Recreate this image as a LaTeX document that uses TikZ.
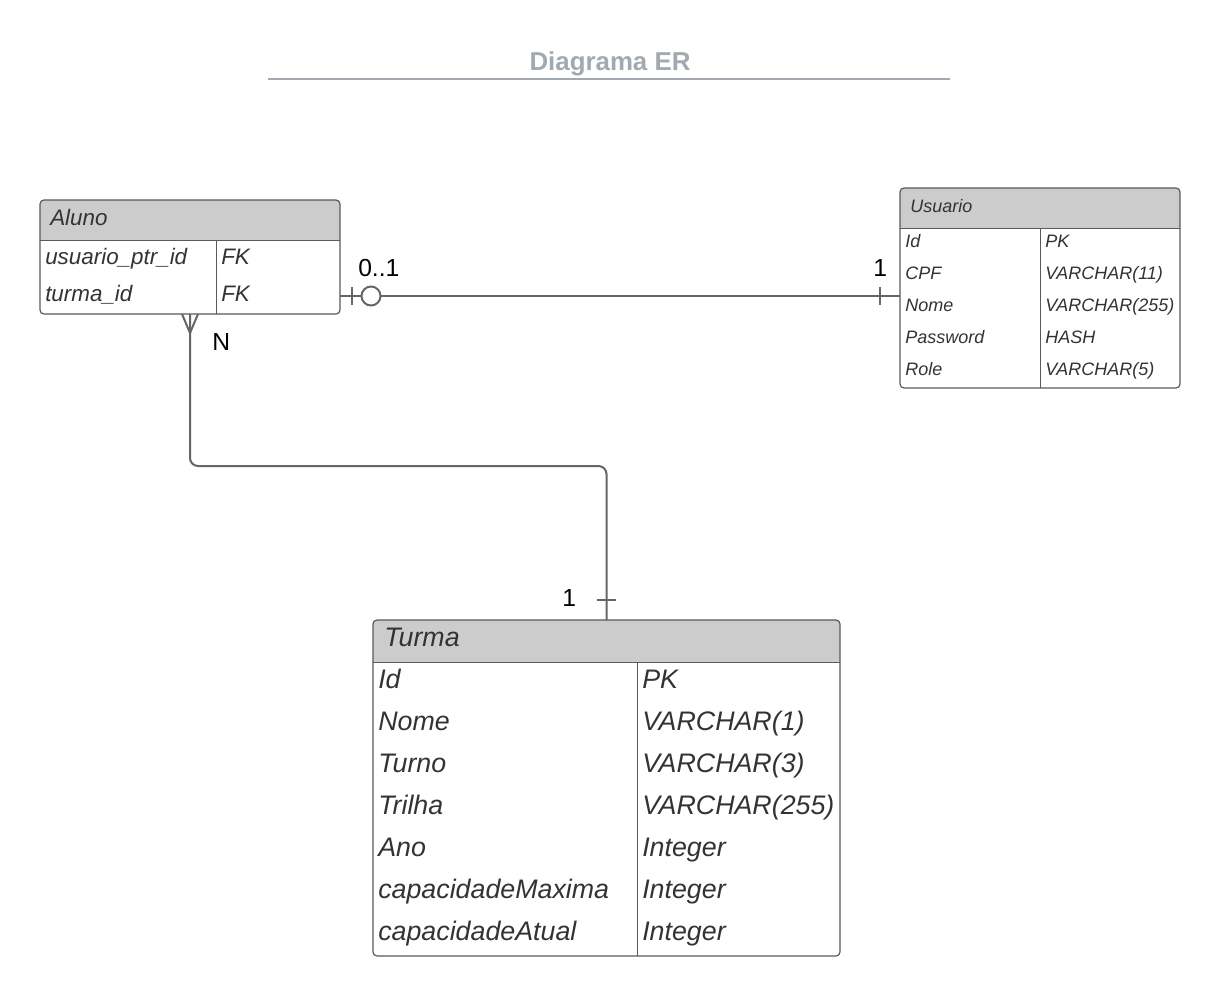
\documentclass[tikz,border=0pt]{standalone}
\usepackage{fontspec}
\setmainfont{Liberation Sans}
\usetikzlibrary{calc}
\definecolor{titlegrey}{HTML}{A3A9B1}
\definecolor{hdrgrey}{HTML}{CCCCCC}
\definecolor{bordergrey}{HTML}{5A5A5A}
\definecolor{linegrey}{HTML}{666666}
\definecolor{txt}{HTML}{333333}
\tikzset{
  tbl/.style={inner sep=0pt, outer sep=0pt, anchor=north west},
  border/.style={draw=bordergrey, line width=0.9pt, rounded corners=3pt},
  grid/.style={draw=bordergrey, line width=0.75pt},
  conn/.style={draw=linegrey, line width=1.5pt},
  ta/.style={anchor=base west, inner sep=0pt, text=txt, font=\fontsize{16.8}{19}\selectfont\itshape},
  tu/.style={anchor=base west, inner sep=0pt, text=txt, font=\fontsize{13.5}{16}\selectfont\itshape},
  tt/.style={anchor=base west, inner sep=0pt, text=txt, font=\fontsize{20.1}{23}\selectfont\itshape},
  lbl/.style={anchor=base west, inner sep=0pt, text=black, font=\fontsize{18.5}{22}\selectfont},
}
\begin{document}
\begin{tikzpicture}[x=0.75pt,y=-0.75pt]
\useasboundingbox (0,0) rectangle (1227,996);
\fill[white] (0,0) rectangle (1227,996);

% title
\node[anchor=base, inner sep=0pt, text=titlegrey, font=\fontsize{19.4}{22}\selectfont\bfseries] (title) at (610,70) {Diagrama ER};
\draw[draw=titlegrey, line width=1.5pt] (268,79) -- (950,79);

% ---------- Aluno ----------
\node[tbl, minimum width=225pt, minimum height=85.5pt] (aluno) at (40,200) {};
\begin{scope}
\clip[rounded corners=3pt] (aluno.north west) rectangle (aluno.south east);
\fill[hdrgrey] (aluno.north west) rectangle (340,240);
\end{scope}
\draw[grid] (40,240) -- (340,240);
\draw[grid] (216,240) -- (216,314);
\draw[border] (aluno.north west) rectangle (aluno.south east);
\node[ta] (alunoH) at (50,225) {Aluno};
\node[ta] (alunoA1) at (45,264) {usuario\_ptr\_id};
\node[ta] (alunoB1) at (221,264) {FK};
\node[ta] (alunoA2) at (45,301) {turma\_id};
\node[ta] (alunoB2) at (221,301) {FK};

% ---------- Usuario ----------
\node[tbl, minimum width=210pt, minimum height=150pt] (usuario) at (900,188) {};
\begin{scope}
\clip[rounded corners=3pt] (usuario.north west) rectangle (usuario.south east);
\fill[hdrgrey] (usuario.north west) rectangle (1180,228);
\end{scope}
\draw[grid] (900,228) -- (1180,228);
\draw[grid] (1040,228) -- (1040,388);
\draw[border] (usuario.north west) rectangle (usuario.south east);
\node[tu] (usuarioH) at (910,212) {Usuario};
\node[tu] (u1a) at (905,247) {Id};
\node[tu] (u1b) at (1045,247) {PK};
\node[tu] (u2a) at (905,279) {CPF};
\node[tu] (u2b) at (1045,279) {VARCHAR(11)};
\node[tu] (u3a) at (905,311) {Nome};
\node[tu] (u3b) at (1045,311) {VARCHAR(255)};
\node[tu] (u4a) at (905,343) {Password};
\node[tu] (u4b) at (1045,343) {HASH};
\node[tu] (u5a) at (905,375) {Role};
\node[tu] (u5b) at (1045,375) {VARCHAR(5)};

% ---------- Turma ----------
\node[tbl, minimum width=350.25pt, minimum height=252pt] (turma) at (373,620) {};
\begin{scope}
\clip[rounded corners=3pt] (turma.north west) rectangle (turma.south east);
\fill[hdrgrey] (turma.north west) rectangle (840,662);
\end{scope}
\draw[grid] (373,662) -- (840,662);
\draw[grid] (637,662) -- (637,956);
\draw[border] (turma.north west) rectangle (turma.south east);
\node[tt] (turmaH) at (384,646) {Turma};
\node[tt] (t1a) at (378,688) {Id};
\node[tt] (t1b) at (642,688) {PK};
\node[tt] (t2a) at (378,730) {Nome};
\node[tt] (t2b) at (642,730) {VARCHAR(1)};
\node[tt] (t3a) at (378,772) {Turno};
\node[tt] (t3b) at (642,772) {VARCHAR(3)};
\node[tt] (t4a) at (378,814) {Trilha};
\node[tt] (t4b) at (642,814) {VARCHAR(255)};
\node[tt] (t5a) at (378,856) {Ano};
\node[tt] (t5b) at (642,856) {Integer};
\node[tt] (t6a) at (378,898) {capacidadeMaxima};
\node[tt] (t6b) at (642,898) {Integer};
\node[tt] (t7a) at (378,940) {capacidadeAtual};
\node[tt] (t7b) at (642,940) {Integer};

% ---------- Connector Aluno -- Usuario ----------
\coordinate (p1) at ($(aluno.south east)+(0,-18)$);
\draw[conn] (p1) -- (p1 -| usuario.west);
\draw[conn] (352,287) -- (352,305);
\draw[conn, fill=white] (371,296) circle (9.5);
\draw[conn] (880,287) -- (880,305);
\node[lbl] (l01) at (358,276) {0..1};
\node[lbl] (l1a) at (873,276) {1};

% ---------- Connector Aluno -- Turma ----------
\draw[conn, rounded corners=6pt] (aluno.south) -- (190,466) -- (606.5,466) -- (turma.north);
\draw[conn] (190,333) -- (182,314);
\draw[conn] (190,333) -- (198,314);
\draw[conn] (597,600) -- (616,600);
\node[lbl] (lN) at (212,350) {N};
\node[lbl] (l1b) at (562,606) {1};
\end{tikzpicture}
\end{document}
